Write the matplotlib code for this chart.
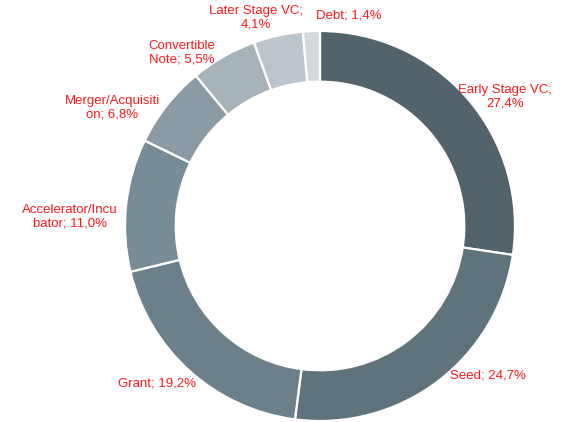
import numpy as np
import matplotlib
matplotlib.use("Agg")
import matplotlib.pyplot as plt

plt.rcParams['font.family'] = ['Liberation Sans', 'DejaVu Sans']

labels = ['Early Stage VC;\n27,4%', 'Seed; 24,7%', 'Grant; 19,2%',
          'Accelerator/Incu\nbator; 11,0%', 'Merger/Acquisiti\non; 6,8%',
          'Convertible\nNote; 5,5%', 'Later Stage VC;\n4,1%', 'Debt; 1,4%']
shares = [27.4, 24.7, 19.2, 11.0, 6.8, 5.5, 4.1, 1.4]
colors = ['#52636c', '#5f737d', '#6b808b', '#768c97',
          '#8a9ba5', '#a7b2b9', '#bcc5cb', '#d3d8db']

# label anchor offsets from the centre, in pixels (x right, y up)
label_pos = [(185, 129), (168, -150), (-163, -158), (-250, 9),
             (-208, 118), (-138, 173), (-64, 208), (29, 211)]

W, H = 569, 422
cx, cy = 320, 226   # centre in image pixels (y from top)
R = 195

fig = plt.figure(figsize=(W / 100, H / 100), dpi=100)
half = 300
ax = fig.add_axes([(cx - half) / W, (H - cy - half) / H, 2 * half / W, 2 * half / H])
ax.set_xlim(-half, half)
ax.set_ylim(-half, half)
ax.set_aspect('equal')
ax.axis('off')

ax.pie(shares, colors=colors, startangle=90, counterclock=False, radius=R,
       wedgeprops=dict(width=R * 0.26, edgecolor='white', linewidth=1.6),
       frame=True)
ax.set_xlim(-half, half)
ax.set_ylim(-half, half)
ax.axis('off')

for lab, (dx, dy) in zip(labels, label_pos):
    ax.text(dx, dy, lab, ha='center', va='center', color='#ff1a1a',
            fontsize=9.5, linespacing=1.2)

fig.savefig('out.png', dpi=100)
